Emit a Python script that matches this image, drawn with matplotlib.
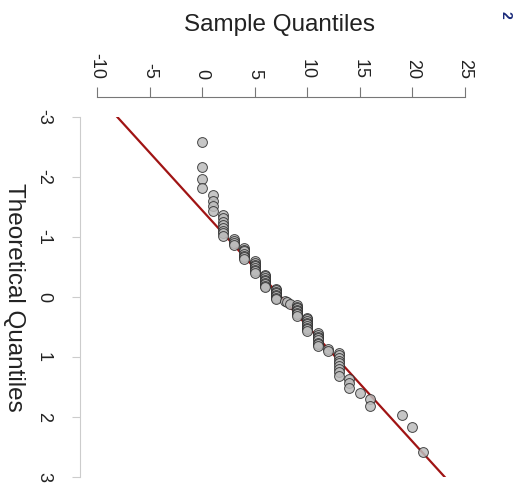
"""
Rotated normal Q-Q plot (sample quantiles across the top, theoretical down the side).
"""

import numpy as np
import matplotlib.pyplot as plt

# sample values and how many points sit at each one
sample_values = [0, 1, 2, 3, 4, 5, 6, 7, 7.9, 8.1, 8.4, 9, 10, 11, 12, 13, 14, 15, 16, 19, 20, 21]
sample_counts = [4, 4, 8, 4, 7, 8, 9, 8, 1, 1, 1, 8, 9, 8, 2, 9, 3, 1, 2, 1, 1, 1]

# theoretical quantiles, one per point (sorted)
theoretical = [
    -2.58, -2.17, -1.96, -1.81, -1.70, -1.60, -1.51, -1.44, -1.37, -1.31,
    -1.25, -1.20, -1.15, -1.10, -1.06, -1.02, -0.97, -0.93, -0.90, -0.86,
    -0.82, -0.79, -0.76, -0.72, -0.69, -0.66, -0.63, -0.60, -0.57, -0.54,
    -0.51, -0.48, -0.45, -0.43, -0.40, -0.37, -0.35, -0.32, -0.29, -0.27,
    -0.24, -0.21, -0.19, -0.16, -0.14, -0.11, -0.09, -0.06, -0.04, -0.01,
    0.01, 0.04, 0.06, 0.09, 0.11, 0.14, 0.16, 0.19, 0.21, 0.24,
    0.27, 0.29, 0.32, 0.35, 0.37, 0.40, 0.43, 0.45, 0.48, 0.51,
    0.54, 0.57, 0.60, 0.63, 0.66, 0.69, 0.72, 0.76, 0.79, 0.82,
    0.86, 0.90, 0.93, 0.97, 1.02, 1.06, 1.10, 1.15, 1.20, 1.25,
    1.31, 1.37, 1.44, 1.51, 1.60, 1.70, 1.81, 1.96, 2.17, 2.58,
]

# reference line (through the quartiles)
line_intercept = 7.5
line_slope = 5.19

sample_ticks = [-10, -5, 0, 5, 10, 15, 20, 25]
theo_ticks = [-3, -2, -1, 0, 1, 2, 3]

plt.rcParams["font.family"] = ["Liberation Sans", "DejaVu Sans"]

W, H = 522, 492
PX = 72 / 100  # points per pixel at dpi 100
fig = plt.figure(figsize=(W / 100, H / 100), dpi=100)
ax = fig.add_axes([97 / W, (H - 477) / H, (465 - 97) / W, (477 - 117) / H])

samples = np.repeat(sample_values, sample_counts)

ax.axline((line_intercept, 0), (line_intercept + line_slope, 1),
          color="#a01414", linewidth=1.6, zorder=1)
ax.scatter(samples, theoretical, s=50, facecolor="#bcbcbc", edgecolor="#2a2a2a",
           linewidth=0.7, alpha=0.85, zorder=2)

ax.set_xlim(-10, 25)
ax.set_ylim(3, -3)

# R-style detached axes
for side in ["right", "bottom"]:
    ax.spines[side].set_visible(False)
ax.spines["top"].set_position(("outward", 20 * PX))
ax.spines["top"].set_bounds(-10, 25)
ax.spines["top"].set_color("#777777")
ax.spines["left"].set_position(("outward", 17 * PX))
ax.spines["left"].set_bounds(-3, 3)
ax.spines["left"].set_color("#cccccc")

ax.xaxis.tick_top()
ax.set_xticks(sample_ticks)
ax.set_xticklabels([str(v) for v in sample_ticks], rotation=270, fontsize=13, color="#222222")
ax.tick_params(axis="x", length=10 * PX, color="#777777", pad=8 * PX)
ax.set_yticks(theo_ticks)
ax.set_yticklabels([str(v) for v in theo_ticks], rotation=270, fontsize=13, color="#222222",
                   va="center")
ax.tick_params(axis="y", length=8 * PX, color="#cccccc", pad=20 * PX)

fig.text(280 / W, 1 - 25 / H, "Sample Quantiles", fontsize=17.5, ha="center", va="center",
         color="#222222")
fig.text(14 / W, 1 - 297 / H, "Theoretical Quantiles", fontsize=17.5, ha="center",
         va="center", rotation=270, color="#222222")
fig.text(505 / W, 1 - 15 / H, "2", fontsize=10, fontweight="bold", ha="center", va="center",
         rotation=270, color="#1a2a7a")

plt.savefig("out.png", dpi=100)
plt.close()
